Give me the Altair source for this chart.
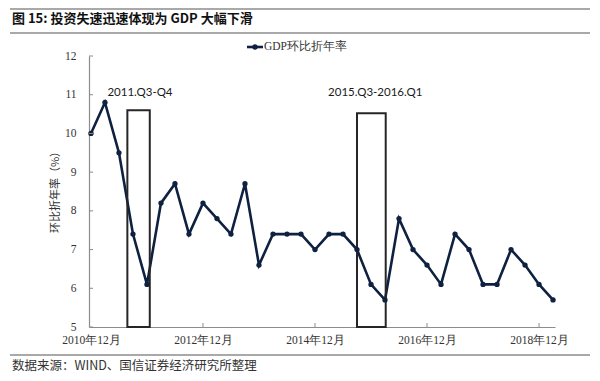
import altair as alt
import pandas as pd

# ---------------- data ----------------
quarters = ["2010Q4",
            "2011Q1", "2011Q2", "2011Q3", "2011Q4",
            "2012Q1", "2012Q2", "2012Q3", "2012Q4",
            "2013Q1", "2013Q2", "2013Q3", "2013Q4",
            "2014Q1", "2014Q2", "2014Q3", "2014Q4",
            "2015Q1", "2015Q2", "2015Q3", "2015Q4",
            "2016Q1", "2016Q2", "2016Q3", "2016Q4",
            "2017Q1", "2017Q2", "2017Q3", "2017Q4",
            "2018Q1", "2018Q2", "2018Q3", "2018Q4",
            "2019Q1"]
gdp_qoq_ann = [10.0,
               10.8, 9.5, 7.4, 6.1,
               8.2, 8.7, 7.4, 8.2,
               7.8, 7.4, 8.7, 6.6,
               7.4, 7.4, 7.4, 7.0,
               7.4, 7.4, 7.0, 6.1,
               5.7, 7.8, 7.0, 6.6,
               6.1, 7.4, 7.0, 6.1,
               6.1, 7.0, 6.6, 6.1,
               5.7]

x_tick_values = [0, 8, 16, 24, 32]
x_tick_labels = ["2010年12月", "2012年12月", "2014年12月", "2016年12月", "2018年12月"]
y_tick_values = [5, 6, 7, 8, 9, 10, 11, 12]

box_labels = ["2011.Q3-Q4", "2015.Q3-2016.Q1"]
box_start = [2.6, 19.0]
box_end = [4.2, 21.05]
box_top = [10.6, 10.52]
box_label_x = [3.5, 20.3]
box_label_y = [11.05, 11.05]

series_name = "GDP环比折年率"
title_text = "图 15:  投资失速迅速体现为 GDP 大幅下滑"
source_text = "数据来源：WIND、国信证券经济研究所整理"
y_title = "环比折年率（%）"

# ---------------- layout ----------------
W, H = 466, 271
PAD_L, PAD_T, PAD_R, PAD_B = 81, 48, 37, 46
LINE_COLOR = "#0f2140"
SERIF = "Liberation Serif"

df = pd.DataFrame({"idx": list(range(len(quarters))), "quarter": quarters, "v": gdp_qoq_ann})
boxes = pd.DataFrame({"label": box_labels, "s": box_start, "e": box_end, "top": box_top,
                      "lx": box_label_x, "ly": box_label_y, "bottom": [5] * len(box_labels)})

x_scale = alt.Scale(domain=[-0.14, 33.14], nice=False, zero=False)
y_scale = alt.Scale(domain=[5, 12], nice=False, zero=False)

label_arr = "[" + ",".join('"%s"' % s for s in x_tick_labels) + "]"

x_axis = alt.Axis(values=x_tick_values, labelExpr=label_arr + "[round(datum.value/8)]",
                  title=None, ticks=False, grid=False, domainColor="#8c8c8c", domainWidth=1.2,
                  labelFont=SERIF, labelFontSize=11.5, labelColor="#333333", labelPadding=7,
                  labelOverlap=False, labelFlush=False)
y_axis = alt.Axis(values=y_tick_values, title=y_title, ticks=False, grid=False,
                  domainColor="#8c8c8c", domainWidth=1.2,
                  labelFont=SERIF, labelFontSize=11.5, labelColor="#333333", labelPadding=13,
                  labelOverlap=False, labelFlush=False,
                  titleFont="Noto Sans CJK SC", titleFontSize=11, titleFontWeight="normal",
                  titleColor="#333333", titleX=-34, titleY=133, titleAngle=270,
                  titleAlign="center", titleBaseline="middle")


def X(f):
    return alt.X(f, scale=x_scale, axis=x_axis, title=None)


def Y(f):
    return alt.Y(f, scale=y_scale, axis=y_axis, title=y_title)


base = alt.Chart(df)

line = base.mark_line(color=LINE_COLOR, strokeWidth=2.6).encode(x=X("idx:Q"), y=Y("v:Q"))
pts = base.mark_point(filled=True, color=LINE_COLOR, size=28, opacity=1).encode(
    x=X("idx:Q"), y=Y("v:Q"))

rects = alt.Chart(boxes).mark_rect(fillOpacity=0, stroke="#262626", strokeWidth=2).encode(
    x=X("s:Q"), x2="e:Q", y=Y("bottom:Q"), y2="top:Q")
rect_labels = alt.Chart(boxes).mark_text(font="Lato", fontSize=11.5, color="#1a1a1a",
                                         align="center", baseline="middle").encode(
    x=X("lx:Q"), y=Y("ly:Q"), text="label:N")

# inward ticks
yt = alt.Chart(pd.DataFrame({"t": y_tick_values})).mark_rule(color="#8c8c8c", strokeWidth=1).encode(
    y=Y("t:Q"), x=alt.value(0), x2=alt.value(4))
xt = alt.Chart(pd.DataFrame({"t": x_tick_values[1:]})).mark_rule(color="#8c8c8c", strokeWidth=1).encode(
    x=X("t:Q"), y=alt.value(H), y2=alt.value(H - 4))

# legend (manual)
one = pd.DataFrame({"name": [series_name]})
leg_line = alt.Chart(one).mark_rule(color=LINE_COLOR, strokeWidth=2.6).encode(
    x=alt.value(158), x2=alt.value(174), y=alt.value(-9))
leg_pt = alt.Chart(one).mark_point(filled=True, color=LINE_COLOR, size=28, opacity=1).encode(
    x=alt.value(166), y=alt.value(-9))
leg_txt = alt.Chart(one).mark_text(font=SERIF, fontSize=11.5, color="#333333", align="left",
                                   baseline="middle").encode(
    x=alt.value(175), y=alt.value(-9), text="name:N")

# header / footer
tdf = pd.DataFrame({"t": [title_text]})
title = alt.Chart(tdf).mark_text(font="Noto Sans CJK SC", fontSize=13, fontWeight="bold",
                                 color="#111111", align="left", baseline="middle").encode(
    x=alt.value(12 - 89), y=alt.value(18.5 - 56), text="t:N")
sdf = pd.DataFrame({"t": [source_text]})
source = alt.Chart(sdf).mark_text(font="Noto Sans CJK SC", fontSize=12.5, color="#333333",
                                  align="left", baseline="middle").encode(
    x=alt.value(12 - 89), y=alt.value(366 - 56), text="t:N")

hl = pd.DataFrame({"y": [-47, 33 - 56, 355 - 56]})
hlines = alt.Chart(hl).mark_rule(color="#8c8c8c", strokeWidth=1.6).encode(
    x=alt.value(-PAD_L + 2), x2=alt.value(W + PAD_R - 2), y=alt.Y("y:Q", scale=None))

chart = alt.layer(line, rects, pts, rect_labels, yt, xt, leg_line, leg_pt, leg_txt,
                  title, source, hlines).properties(
    width=W, height=H,
    autosize=alt.AutoSizeParams(type="none"),
    padding={"left": PAD_L, "top": PAD_T, "right": PAD_R, "bottom": PAD_B},
    background="white",
).configure_view(stroke=None)

chart.save("out.html", embed_options={"renderer": "svg", "actions": False})
